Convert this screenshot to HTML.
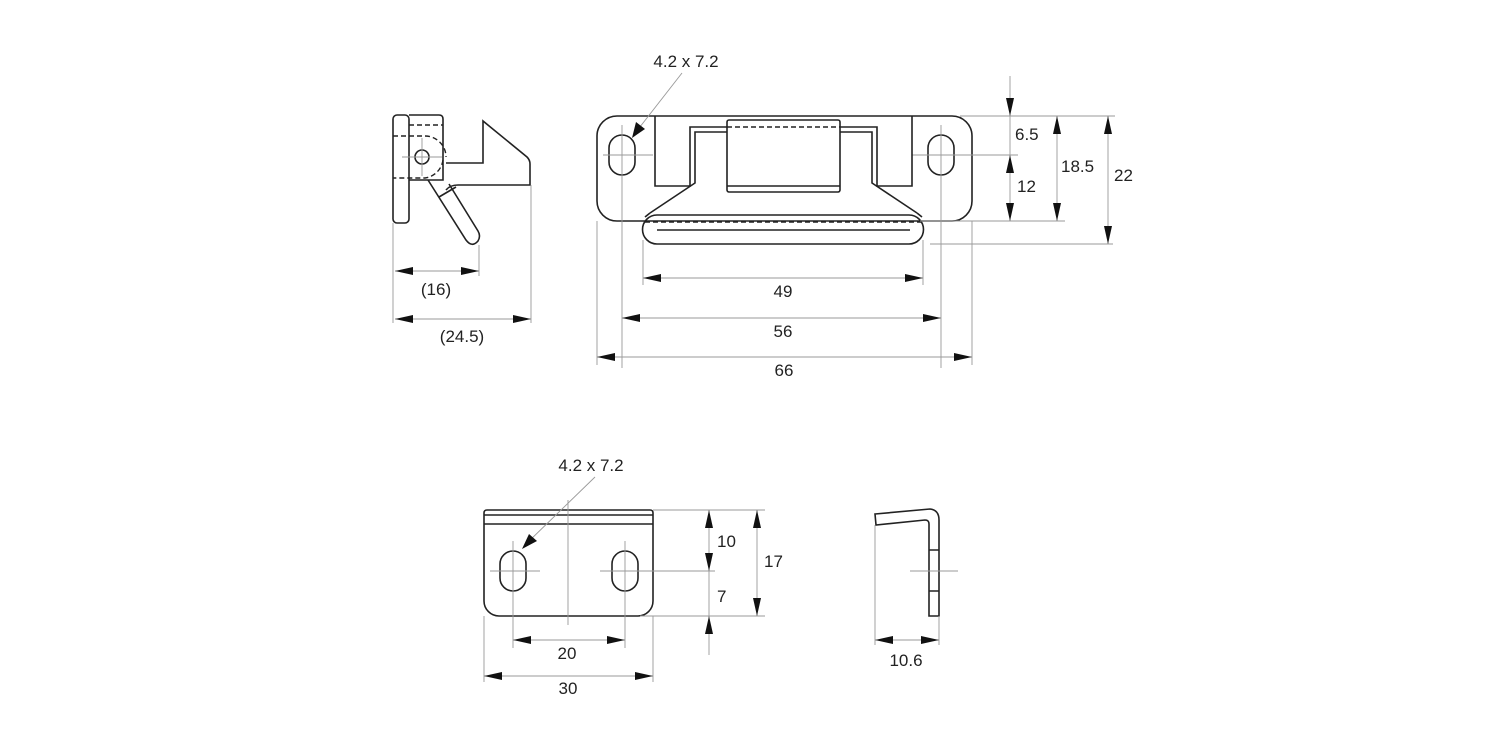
<!DOCTYPE html>
<html><head><meta charset="utf-8"><style>
html,body{margin:0;padding:0;background:#fff}
svg{display:block}
text{font-family:"Liberation Sans",Arial,sans-serif;font-size:17px;fill:#222}
.o{fill:none;stroke:#222;stroke-width:1.6}
.t{fill:none;stroke:#999;stroke-width:0.9}
.d{fill:none;stroke:#222;stroke-width:1.4;stroke-dasharray:5 3}
.a{fill:#111}
</style></head><body>
<svg width="1500" height="750" viewBox="0 0 1500 750" xmlns="http://www.w3.org/2000/svg">
<!-- ===== Left side view ===== -->
<rect class="o" x="393" y="115" width="16" height="108" rx="4"/>
<path class="o" d="M409,115 H439 Q443,115 443,119 V180 H409"/>
<path class="d" d="M409,125 H443 M393,136 H425 A21 21 0 0 1 446,157"/>
<path class="d" d="M443,160 A21 21 0 0 1 425,178 H393"/>
<circle class="o" cx="422" cy="157" r="7"/>
<path class="t" d="M402,157 H442 M422,138 V176"/>
<path class="o" d="M446,163 H483 V121 L527,157 Q530,160 530,164 V185 H458 Q450,185 446,190"/>
<path class="o" d="M428,180 L466,240 Q472,248 478,241 Q481,236 478,231 L449,184"/>
<path class="o" d="M439,197 L456,187"/>
<!-- ext lines -->
<path class="t" d="M393,223 V323 M479,245 V276 M531,185 V323"/>
<!-- (16) -->
<path class="t" d="M395,271 H479"/>
<polygon class="a" points="395,271 413,267 413,275"/><polygon class="a" points="479,271 461,267 461,275"/>
<text x="436" y="295" text-anchor="middle">(16)</text>
<path class="t" d="M395,319 H531"/>
<polygon class="a" points="395,319 413,315 413,323"/><polygon class="a" points="531,319 513,315 513,323"/>
<text x="462" y="342" text-anchor="middle">(24.5)</text>

<!-- ===== Front view ===== -->
<rect class="o" x="597" y="116" width="375" height="105" rx="20"/>
<rect class="o" x="609" y="135" width="26" height="40" rx="13"/>
<rect class="o" x="928" y="135" width="26" height="40" rx="13"/>
<path class="t" d="M603,155 H653 M622,125 V368 M912,155 H1018 M941,125 V368 M597,221 V365 M972,221 V365 M643,240 V285 M923,240 V285"/>
<path class="o" d="M655,116 V186 H690 V127 H727 M912,116 V186 H877 V127 H840"/>
<path class="o" d="M727,132 H695 V183 L650,213 M840,132 H872 V183 L917,213"/>
<path class="o" d="M657,215 H909 A14 14 0 0 1 909,244 H657 A14 14 0 0 1 657,215 Z" fill="#fff"/>
<path class="o" d="M650,213 L645,217 M917,213 L922,217"/>
<path class="d" d="M645,222 H921"/>
<path class="o" d="M657,230 H910"/>
<rect class="o" x="727" y="120" width="113" height="72" rx="2" fill="#fff"/>
<path class="o" d="M727,186 H840"/>
<path class="d" d="M727,127 H840"/>
<!-- leader -->
<text x="686" y="67" text-anchor="middle">4.2 x 7.2</text>
<path class="t" d="M682,73 L636,132"/>
<polygon class="a" points="632,138 636,122 645,129"/>
<!-- horizontal dims -->
<path class="t" d="M643,278 H923"/>
<polygon class="a" points="643,278 661,274 661,282"/><polygon class="a" points="923,278 905,274 905,282"/>
<text x="783" y="297" text-anchor="middle">49</text>
<path class="t" d="M622,318 H941"/>
<polygon class="a" points="622,318 640,314 640,322"/><polygon class="a" points="941,318 923,314 923,322"/>
<text x="783" y="337" text-anchor="middle">56</text>
<path class="t" d="M597,357 H972"/>
<polygon class="a" points="597,357 615,353 615,361"/><polygon class="a" points="972,357 954,353 954,361"/>
<text x="784" y="376" text-anchor="middle">66</text>
<!-- vertical dims -->
<path class="t" d="M960,116 H1115 M920,221 H1065 M930,244 H1113"/>
<path class="t" d="M1010,76 V221"/>
<polygon class="a" points="1010,116 1006,98 1014,98"/>
<polygon class="a" points="1010,155 1006,173 1014,173"/><polygon class="a" points="1010,221 1006,203 1014,203"/>
<text x="1015" y="140">6.5</text>
<text x="1017" y="192">12</text>
<path class="t" d="M1057,116 V221"/>
<polygon class="a" points="1057,116 1053,134 1061,134"/><polygon class="a" points="1057,221 1053,203 1061,203"/>
<text x="1061" y="172">18.5</text>
<path class="t" d="M1108,116 V244"/>
<polygon class="a" points="1108,116 1104,134 1112,134"/><polygon class="a" points="1108,244 1104,226 1112,226"/>
<text x="1114" y="181">22</text>

<!-- ===== Bottom plate ===== -->
<path class="o" d="M487,510 H650 Q653,510 653,513 V601 A15 15 0 0 1 638,616 H499 A15 15 0 0 1 484,601 V513 Q484,510 487,510 Z"/>
<path class="o" d="M484,515 H653 M484,524 H653"/>
<rect class="o" x="500" y="551" width="26" height="40" rx="13"/>
<rect class="o" x="612" y="551" width="26" height="40" rx="13"/>
<path class="t" d="M568,500 V625 M490,571 H540 M600,571 H715 M513,541 V648 M625,541 V648 M484,616 V682 M653,616 V682 M653,510 H765 M640,616 H765"/>
<text x="591" y="471" text-anchor="middle">4.2 x 7.2</text>
<path class="t" d="M595,477 L526,544"/>
<polygon class="a" points="522,549 529,534 537,541"/>
<path class="t" d="M513,640 H625"/>
<polygon class="a" points="513,640 531,636 531,644"/><polygon class="a" points="625,640 607,636 607,644"/>
<text x="567" y="659" text-anchor="middle">20</text>
<path class="t" d="M484,676 H653"/>
<polygon class="a" points="484,676 502,672 502,680"/><polygon class="a" points="653,676 635,672 635,680"/>
<text x="568" y="694" text-anchor="middle">30</text>
<path class="t" d="M709,510 V655"/>
<polygon class="a" points="709,510 705,528 713,528"/><polygon class="a" points="709,571 705,553 713,553"/>
<polygon class="a" points="709,616 705,634 713,634"/>
<text x="717" y="547">10</text>
<text x="717" y="602">7</text>
<path class="t" d="M757,510 V616"/>
<polygon class="a" points="757,510 753,528 761,528"/><polygon class="a" points="757,616 753,598 761,598"/>
<text x="764" y="567">17</text>

<!-- ===== Side L ===== -->
<path class="o" d="M875,514 L930,509 Q939,510 939,520 V616 H929 V524 Q929,520 925,520 L876,525 Z"/>
<path class="o" d="M929,550 H939 M929,591 H939"/>
<path class="t" d="M910,571 H958 M875,525 V645 M939,616 V645"/>
<path class="t" d="M875,640 H939"/>
<polygon class="a" points="875,640 893,636 893,644"/><polygon class="a" points="939,640 921,636 921,644"/>
<text x="906" y="666" text-anchor="middle">10.6</text>
</svg>
</body></html>
